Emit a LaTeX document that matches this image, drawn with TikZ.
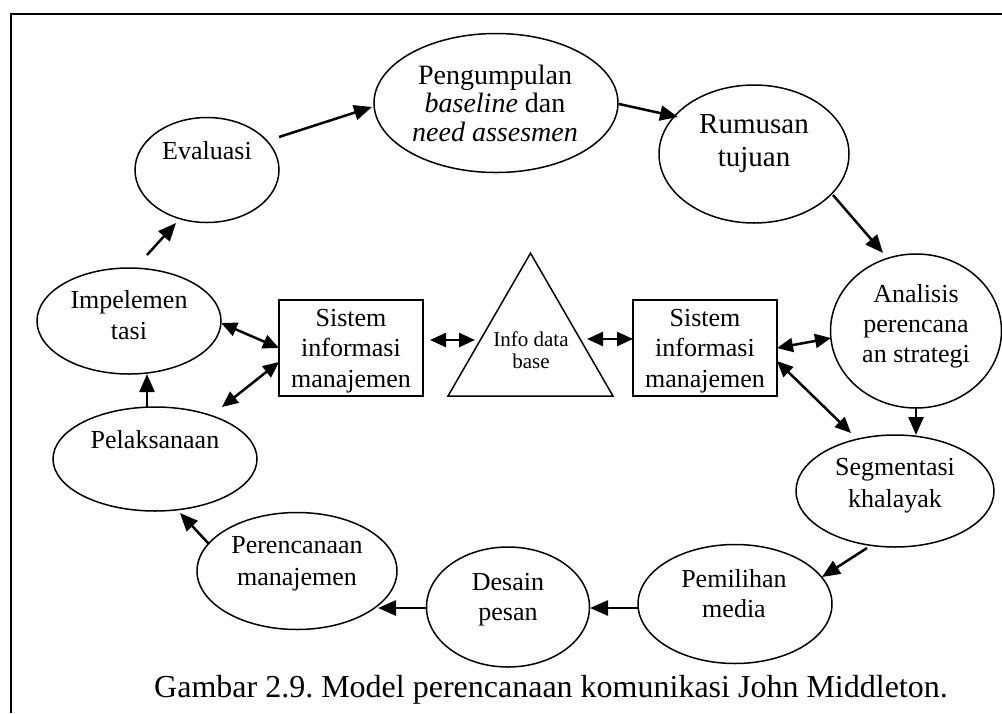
\documentclass[tikz,border=0pt]{standalone}
\usepackage{fontspec}
\setmainfont{Liberation Serif}
\usetikzlibrary{shapes.geometric,arrows.meta,calc}
% centred lines whose reference point is the first baseline
\newcommand{\txtblock}[1]{\begin{tabular}[t]{@{}c@{}}#1\end{tabular}}

\begin{document}
\frenchspacing
\begin{tikzpicture}[x=1pt,y=-1pt,
  oval/.style={draw,ellipse,line width=1.5pt,inner sep=0pt},
  infobox/.style={draw,rectangle,line width=1.6pt,minimum width=144pt,minimum height=96pt,inner sep=0pt},
  lbl/.style={anchor=base,inner sep=0pt,font=\fontsize{26}{30.5}\selectfont},
  flow/.style={line width=2.5pt,-{Triangle[length=18pt,width=15pt]}},
  link/.style={line width=2.5pt,{Triangle[length=16pt,width=14pt]}-{Triangle[length=16pt,width=14pt]}},
]
\useasboundingbox (0,0) rectangle (1002,713);
\draw[line width=1.8pt] (11,713) -- (11,14) -- (1002,14);

% stages of the cycle
\node[oval,minimum width=244pt,minimum height=139pt] (peng) at (496,103) {};
\node[oval,minimum width=190pt,minimum height=138pt] (rum) at (754,154) {};
\node[oval,minimum width=144pt,minimum height=105pt] (eval) at (207,170) {};
\node[oval,minimum width=184pt,minimum height=106pt] (imp) at (129,321) {};
\node[oval,minimum width=171pt,minimum height=154pt] (ana) at (916,331) {};
\node[oval,minimum width=204pt,minimum height=104pt] (pel) at (155,459) {};
\node[oval,minimum width=198pt,minimum height=112pt] (seg) at (895,491) {};
\node[oval,minimum width=200pt,minimum height=117pt] (per) at (297,571) {};
\node[oval,minimum width=163pt,minimum height=120pt] (des) at (508,607) {};
\node[oval,minimum width=194pt,minimum height=119pt] (pem) at (735,604) {};

% information system boxes and the data base
\node[infobox] (boxL) at (351,348) {};
\node[infobox] (boxR) at (705,348) {};
\node[draw,regular polygon,regular polygon sides=3,minimum size=190.5pt,inner sep=0pt,line width=1.5pt] (tri) at (530.5,348.4) {};

% labels
\node[lbl,font=\fontsize{28}{28.5}\selectfont] (pengtxt) at (495,84) {\txtblock{Pengumpulan\\\textit{baseline} dan\\\textit{need assesmen}}};
\node[lbl,font=\fontsize{29}{33}\selectfont] (rumtxt) at (754,133) {\txtblock{Rumusan\\tujuan}};
\node[lbl] (evaltxt) at (207,159) {Evaluasi};
\node[lbl,font=\fontsize{26}{31}\selectfont] (imptxt) at (129,308) {\txtblock{Impelemen\\tasi}};
\node[lbl] (boxLtxt) at (351,326) {\txtblock{Sistem\\informasi\\manajemen}};
\node[lbl] (boxRtxt) at (705,326) {\txtblock{Sistem\\informasi\\manajemen}};
\node[lbl,font=\fontsize{21}{22}\selectfont] (tritxt) at (531,346) {\txtblock{Info data\\base}};
\node[lbl,font=\fontsize{26}{30}\selectfont] (anatxt) at (916,302) {\txtblock{Analisis\\perencana\\an strategi}};
\node[lbl] (peltxt) at (155,448) {Pelaksanaan};
\node[lbl,font=\fontsize{26}{32}\selectfont] (segtxt) at (895,475) {\txtblock{Segmentasi\\khalayak}};
\node[lbl,font=\fontsize{26}{32}\selectfont] (pertxt) at (297,553) {\txtblock{Perencanaan\\manajemen}};
\node[lbl,font=\fontsize{26}{30}\selectfont] (destxt) at (508,590) {\txtblock{Desain\\pesan}};
\node[lbl,font=\fontsize{26}{30}\selectfont] (pemtxt) at (734,587) {\txtblock{Pemilihan\\media}};

\node[anchor=base,inner sep=0pt,font=\fontsize{32}{36}\selectfont] (cap) at (551,697) {Gambar 2.9. Model perencanaan komunikasi John Middleton.};

% cycle arrows
\draw[flow] ($(eval)+(72,-33)$) -- ($(peng)+(-124,4)$);
\draw[flow] ($(peng)+(123,1)$) -- ($(rum)+(-76,-37)$);
\draw[flow] ($(rum)+(79,41)$) -- ($(ana)+(-33,-78)$);
\draw[flow] ($(ana)+(0,77)$) -- ($(seg)+(21,-56)$);
\draw[flow] ($(seg)+(-28,57)$) -- ($(pem)+(87,-27)$);
\draw[flow] ($(pem)+(-97,4)$) -- ($(des)+(82,1)$);
\draw[flow] ($(des)+(-81,1)$) -- ($(per)+(81,37)$);
\draw[flow] ($(per)+(-88,-27)$) -- ($(pel)+(25,54)$);
\draw[flow] ($(pel)+(-8,-52)$) -- ($(imp)+(18,53)$);
\draw[flow] ($(imp)+(18,-66)$) -- ($(eval)+(-31,53)$);

% exchanges with the information systems
\draw[link] ($(boxR)+(72,13)$) -- ($(seg)+(-44,-58)$);
\draw[link] ($(boxR)+(72,0)$) -- ($(ana)+(-85,7)$);
\draw[link] ($(tri)+(56.5,-9.4)$) -- ($(boxR)+(-72,-9)$);
\draw[link] ($(boxL)+(79,-8)$) -- ($(tri)+(-55.5,-8.4)$);
\draw[link] ($(imp)+(92,2)$) -- ($(boxL)+(-72,0)$);
\draw[link] ($(pel)+(67,-52)$) -- ($(boxL)+(-72,14)$);
\end{tikzpicture}
\end{document}
